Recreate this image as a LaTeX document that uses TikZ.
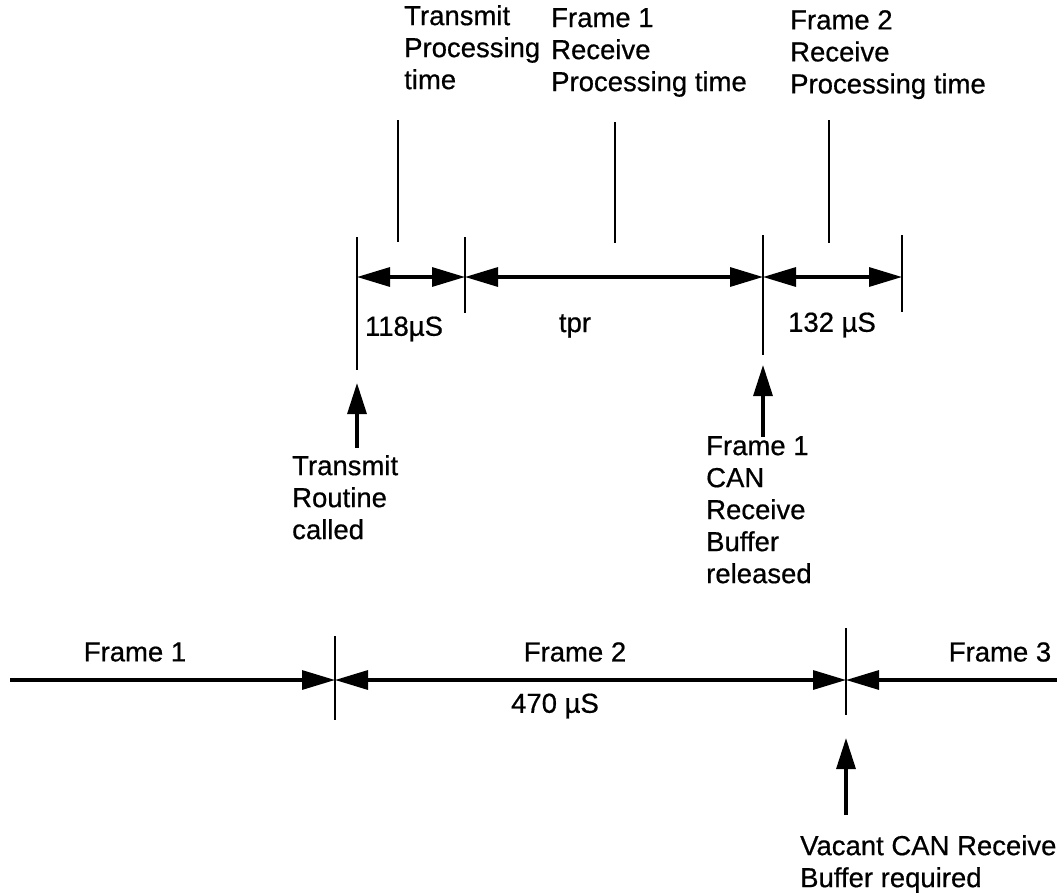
\documentclass[tikz,border=0pt]{standalone}
\usepackage{fontspec}
\setmainfont{Liberation Sans}
\newfontfamily\dfont{Liberation Sans}[FakeBold=0.6]
\usetikzlibrary{arrows.meta}
\begin{document}
\begin{tikzpicture}[x=1pt,y=-1pt,
  txt/.style={inner sep=0pt,font=\dfont\fontsize{27.5}{32}\selectfont,align=left},
  tick/.style={line width=2.6pt},
  leader/.style={line width=1.8pt},
  dim/.style={line width=3.2pt,{Triangle[length=33pt,width=19pt]}-{Triangle[length=33pt,width=19pt]}},
  onearrow/.style={line width=3.2pt,-{Triangle[length=33pt,width=19pt]}},
  uparrow/.style={line width=3.2pt,-{Triangle[length=31pt,width=19pt]}}]
\useasboundingbox (0,0) rectangle (1057,894);
% top ticks
\coordinate (a) at (357,277);
\coordinate (b) at (465,277);
\coordinate (c) at (763,277);
\coordinate (d) at (902,277);
\draw[tick] (357,237) -- (357,370);
\draw[tick] (465,237) -- (465,313);
\draw[tick] (763,235) -- (763,355);
\draw[tick] (902,235) -- (902,312);
\draw[dim] (a) -- (b);
\draw[dim] (b) -- (c);
\draw[dim] (c) -- (d);
% top labels
\node[txt,anchor=north west] (l1) at (404,5) {Transmit\\Processing\\time};
\node[txt,anchor=north west] (l2) at (551,8) {Frame 1\\Receive\\Processing time};
\node[txt,anchor=north west] (l3) at (790,10) {Frame 2\\Receive\\Processing time};
\draw[leader] (398,120) -- (398,242);
\draw[leader] (615,122) -- (615,243);
\draw[leader] (829,120) -- (829,243);
\node[txt] (v1) at (404,329) {118µS};
\node[txt] (v2) at (575,326) {tpr};
\node[txt] (v3) at (832,325) {132 µS};
% event arrows
\node[txt,anchor=north west] (e1) at (292,455) {Transmit\\Routine\\called};
\node[txt,anchor=north west] (e2) at (706,436) {Frame 1\\CAN\\Receive\\Buffer\\released};
\coordinate (e1t) at (357,448);
\coordinate (e1h) at (357,383);
\coordinate (e2t) at (763,437);
\coordinate (e2h) at (763,365);
\draw[uparrow] (e1t) -- (e1h);
\draw[uparrow] (e2t) -- (e2h);
% bottom timeline
\coordinate (s) at (10,680);
\coordinate (p) at (335,680);
\coordinate (q) at (846,680);
\coordinate (r) at (1057,680);
\draw[tick] (335,636) -- (335,720);
\draw[tick] (846,628) -- (846,715);
\draw[onearrow] (s) -- (p);
\draw[dim] (p) -- (q);
\draw[onearrow] (r) -- (q);
\node[txt] (f1) at (135,652) {Frame 1};
\node[txt] (f2) at (575,652) {Frame 2};
\node[txt] (f3) at (1000,652) {Frame 3};
\node[txt] (f4) at (555,706) {470 µS};
\coordinate (vt) at (846,815);
\coordinate (vh) at (846,738);
\draw[uparrow] (vt) -- (vh);
\node[txt,anchor=north west] (vc) at (800,835) {Vacant CAN Receive\\Buffer required};
\end{tikzpicture}
\end{document}
